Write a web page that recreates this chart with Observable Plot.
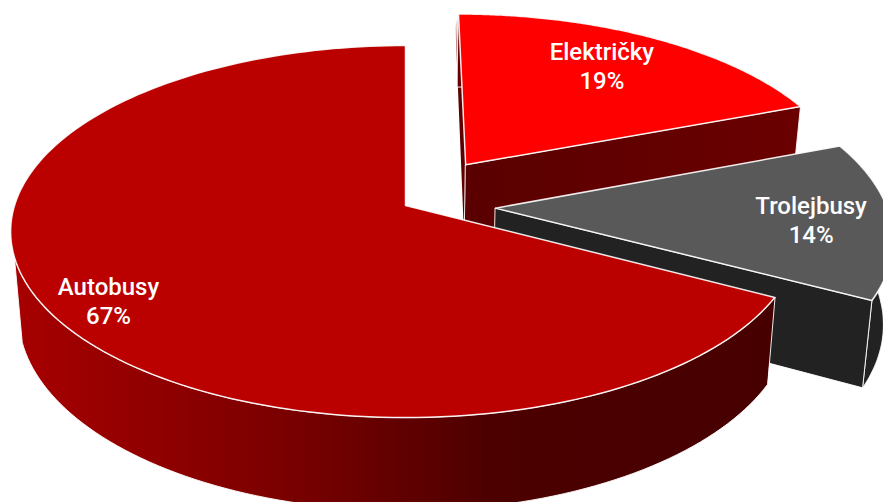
<!DOCTYPE html>
<html>
<head>
<meta charset="utf-8">
<script src="https://cdn.jsdelivr.net/npm/d3@7"></script>
<script src="https://cdn.jsdelivr.net/npm/@observablehq/plot@0.6"></script>
<style>
  html, body { margin: 0; padding: 0; background: #fff; }
  svg { display: block; }
</style>
</head>
<body>
<div id="chart"></div>
<script>
// Data: clockwise from 12 o'clock (labels show the rounded share)
const categories = ["Električky", "Trolejbusy", "Autobusy"];
const shares = [19.2, 13.6, 67.2];

// Styles
const topColors = ["#ff0000", "#595959", "#bb0000"];
const cutColors = ["url(#cutRed)", "#222222", "none"];
const rimColors = ["#660000", "#222222", "url(#rimRed)"];

// Layout of the exploded slices and the camera
const W = 883, H = 502;
const explode = [0.28, 0.23, 0];
const labelRadius = [0.745, 0.8, 0.866];
const labelTurn = [-1.5, 0, -4.4];
const labelNudgeX = [-1, 0, 0];
const labelNudgeY = [0, 2.5, -2.5];
const rimEndTurn = [0, 0, 255];  // where the visible wall of the big slice ends, degrees
const sliverLift = 60;           // how far the far end of the thin left wall rises
const sliverWiden = 2;           // extra width of the thin left wall
const view = {cx: 405, cy: 205, a: 391, b: 182.4, k: 0.14, drop: 82.6, shrinkX: 0.98, stretchY: 1.05};

function project(X, Y, lower) {
  const w = 1 + view.k * Y;
  const sx = view.a * X / w, sy = -view.b * Y / w;
  return lower
    ? {x: view.cx + sx * view.shrinkX, y: view.cy + sy * view.stretchY + view.drop}
    : {x: view.cx + sx, y: view.cy + sy};
}

const arcs = d3.pie().sort(null).value(d => d)(shares);
const slices = arcs.map((arc, i) => {
  const mid = (arc.startAngle + arc.endAngle) / 2;
  const ox = explode[i] * Math.sin(mid), oy = explode[i] * Math.cos(mid);
  const at = (t, r, lower) => project(ox + r * Math.sin(t), oy + r * Math.cos(t), lower);
  const ts = d3.range(0, 161).map(s => arc.startAngle + (arc.endAngle - arc.startAngle) * s / 160);
  const upperArc = ts.map(t => at(t, 1, false));
  const lowerArc = ts.map(t => at(t, 1, true));
  const rimEnd = rimEndTurn[i] ? rimEndTurn[i] * Math.PI / 180 : arc.endAngle;
  const rimTs = ts.filter(t => t <= rimEnd);
  const apex = at(0, 0, false), apexLow = at(0, 0, true);
  const lp = at(mid + labelTurn[i] * Math.PI / 180, labelRadius[i], false);
  return {
    i, mid,
    top: [apex, ...upperArc],
    rim: [...rimTs.map(t => at(t, 1, false)), ...rimTs.map(t => at(t, 1, true)).reverse()],
    cutStart: [apex, upperArc[0], {x: lowerArc[0].x - sliverWiden, y: lowerArc[0].y - sliverLift}, apexLow],
    cutEnd: [apex, upperArc[160], lowerArc[160], apexLow],
    label: {x: lp.x + labelNudgeX[i], y: lp.y + labelNudgeY[i], text: `${categories[i]}\n${Math.round(shares[i])}%`}
  };
});

function face(points, fill, strokeWidth = 1) {
  return Plot.line(points, {x: "x", y: "y", curve: "linear-closed", fill, stroke: strokeWidth ? "#fff" : "none", strokeWidth, strokeOpacity: 0.9});
}

const gradients = () => {
  const defs = d3.create("svg:defs");
  const add = (id, x1, x2, y1, y2, stops) => {
    const g = defs.append("linearGradient").attr("id", id).attr("gradientUnits", "userSpaceOnUse")
      .attr("x1", x1).attr("x2", x2).attr("y1", y1).attr("y2", y2);
    stops.forEach(([o, c]) => g.append("stop").attr("offset", o).attr("stop-color", c));
  };
  add("rimRed", 10, 790, 0, 0, [[0, "#a80000"], [0.37, "#780000"], [0.62, "#4c0000"], [1, "#470000"]]);
  add("cutRed", 465, 800, 0, 0, [[0, "#5a0000"], [1, "#6a0000"]]);
  add("sliver", 0, 0, 28, 90, [[0, "#e8c8c8"], [0.5, "#8a3030"], [1, "#5e0000"]]);
  return defs.node();
};

const marks = [gradients];
slices.forEach(s => {
  if (s.i === 0) marks.push(face(s.cutStart, "url(#sliver)", 0));
  marks.push(face(s.rim, rimColors[s.i]));
  if (s.i !== 2) marks.push(face(s.cutEnd, cutColors[s.i]));
  marks.push(face(s.top, topColors[s.i], 1.5));
});
marks.push(Plot.text(slices.map(s => s.label), {
  x: "x", y: "y", text: "text", fill: "#fff", fontSize: 24, lineHeight: 1.2, dy: -1,
  fontFamily: "Roboto", fontWeight: 500, textAnchor: "middle"
}));

const chart = Plot.plot({
  width: W, height: H, margin: 0,
  x: {domain: [0, W], range: [0, W], axis: null},
  y: {domain: [0, H], range: [0, H], axis: null},
  marks
});
document.getElementById("chart").append(chart);
</script>
</body>
</html>
